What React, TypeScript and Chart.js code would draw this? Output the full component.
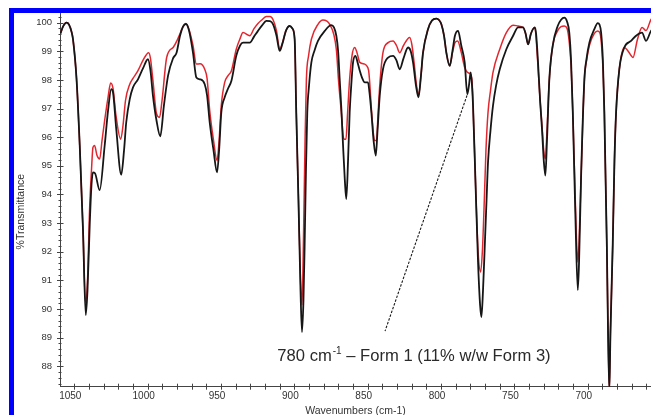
import React, { useEffect, useRef } from "react";
import { Chart, registerables } from "chart.js";

Chart.register(...registerables);

// Black trace (sample) – wavenumber (cm-1) and % transmittance
const blackWavenumbers = [
  1059.4, 1057.7, 1055.3, 1053.6, 1051.8, 1050.9, 1048.5, 1046.3, 1044.1, 1042.2,
  1041.0, 1039.5, 1038.3, 1037.3, 1035.9, 1032.7, 1029.3, 1027.0, 1024.8, 1023.6,
  1021.4, 1018.0, 1016.1, 1014.6, 1012.2, 1010.0, 1006.6, 1003.2, 999.8, 998.1,
  996.4, 994.0, 991.4, 988.9, 986.1, 982.7, 980.3, 977.9, 975.9, 973.9,
  971.8, 969.1, 966.8, 964.5, 961.1, 959.5, 957.7, 955.1, 952.7, 951.3,
  949.8, 947.5, 945.2, 942.9, 939.6, 937.0, 935.0, 930.4, 927.5, 924.8,
  922.0, 919.1, 916.6, 914.5, 912.2, 910.0, 908.1, 905.7, 903.2, 901.3,
  899.8, 898.7, 897.2, 895.8, 894.8, 893.8, 893.0, 892.1, 891.2, 890.0,
  888.4, 886.3, 883.9, 879.3, 874.8, 873.0, 871.4, 870.2, 869.1, 867.9,
  866.8, 865.6, 864.6, 863.4, 862.3, 861.0, 860.0, 858.4, 856.9, 855.4,
  853.9, 852.0, 849.8, 848.8, 847.5, 846.0, 844.5, 843.3, 841.8, 839.6,
  836.1, 832.7, 830.4, 828.2, 825.6, 822.5, 820.8, 819.1, 817.1, 815.4,
  813.7, 812.3, 808.9, 806.2, 803.2, 801.4, 799.8, 798.0, 796.4, 794.1,
  792.2, 790.5, 788.4, 786.2, 783.9, 782.1, 781.0, 779.8, 778.9, 778.2,
  776.6, 774.8, 773.4, 772.5, 771.4, 770.2, 769.0, 768.0, 766.3, 764.6,
  762.5, 760.0, 755.5, 750.9, 747.5, 744.1, 742.4, 740.7, 738.7, 736.1,
  735.2, 734.0, 732.5, 731.2, 730.0, 728.9, 727.8, 726.2, 723.9, 720.5,
  718.2, 716.0, 714.1, 712.6, 711.4, 710.2, 708.5, 706.8, 705.9, 704.6,
  702.3, 700.8, 698.9, 695.5, 693.2, 692.0, 690.9, 689.7, 688.7, 687.0,
  686.2, 685.3, 684.5, 683.0, 681.8, 680.7, 678.5, 675.1, 670.5, 667.1,
  663.0, 660.3, 656.9, 655.0,
];
const blackTransmittance = [
  99.62, 99.86, 100.0, 99.93, 99.66, 99.42, 98.05, 95.71, 92.8, 89.79,
  90.66, 92.93, 94.32, 94.77, 94.74, 94.15, 95.71, 96.93, 97.68, 97.56,
  96.28, 94.69, 95.54, 96.52, 97.33, 97.74, 98.02, 98.4, 98.72, 98.33,
  97.45, 96.59, 96.03, 97.11, 98.15, 98.75, 98.95, 99.55, 99.86, 99.95,
  99.72, 98.95, 98.08, 98.02, 97.85, 97.46, 96.52, 95.54, 94.77, 95.54,
  96.86, 97.39, 97.7, 97.97, 98.84, 99.2, 99.3, 99.3, 99.51, 99.71,
  99.9, 100.06, 100.05, 99.94, 99.55, 99.01, 99.27, 99.72, 99.88, 99.79,
  99.42, 96.86, 93.8, 90.66, 89.2, 90.3, 92.22, 94.84, 96.86, 97.8,
  98.61, 99.02, 99.36, 99.71, 99.91, 99.83, 99.54, 99.02, 98.02, 96.93,
  95.7, 94.5, 93.84, 95.19, 96.86, 97.98, 98.61, 98.84, 98.61, 98.32,
  98.08, 97.91, 97.91, 97.56, 96.86, 95.89, 95.36, 96.24, 97.45, 98.37,
  98.78, 98.84, 98.68, 98.37, 98.75, 99.13, 99.02, 98.61, 97.8, 97.39,
  98.15, 98.95, 99.77, 100.07, 100.14, 100.09, 99.94, 99.55, 98.95, 98.49,
  99.02, 99.55, 99.71, 99.19, 98.61, 97.5, 97.8, 98.26, 97.8, 97.1,
  94.54, 91.64, 90.14, 89.72, 90.66, 92.22, 93.8, 95.12, 96.24, 97.1,
  97.8, 98.37, 99.07, 99.54, 99.83, 99.83, 99.62, 99.24, 99.62, 99.83,
  99.6, 98.7, 97.28, 96.28, 95.19, 94.66, 95.89, 98.02, 99.19, 99.88,
  100.1, 100.17, 100.03, 99.65, 98.68, 96.86, 93.38, 90.66, 91.71, 94.54,
  98.02, 98.75, 99.3, 99.77, 99.98, 99.93, 99.65, 98.68, 96.86, 92.22,
  89.27, 87.28, 89.27, 92.22, 95.19, 96.86, 98.37, 99.13, 99.36, 99.54,
  99.65, 99.36, 99.71, 99.8,
];

// Red trace
const redWavenumbers = [
  1059.4, 1057.7, 1055.3, 1053.6, 1051.8, 1050.9, 1048.5, 1046.3, 1044.1, 1042.4,
  1041.0, 1039.6, 1038.3, 1037.3, 1036.2, 1034.5, 1032.7, 1031.1, 1029.3, 1027.0,
  1025.2, 1023.6, 1021.6, 1018.4, 1016.8, 1015.1, 1012.2, 1010.0, 1006.6, 1003.2,
  999.3, 998.1, 996.4, 994.0, 991.9, 990.2, 987.0, 982.5, 980.0, 977.9,
  975.9, 973.9, 971.8, 969.1, 966.8, 964.3, 961.1, 959.5, 957.7, 955.1,
  952.7, 951.3, 949.8, 947.5, 945.2, 942.9, 939.6, 937.0, 935.0, 930.4,
  927.5, 924.8, 922.0, 919.1, 916.6, 914.5, 912.2, 910.0, 908.1, 905.7,
  903.2, 901.3, 899.8, 898.7, 897.2, 895.8, 894.8, 893.8, 892.7, 891.8,
  890.3, 888.4, 883.9, 880.5, 875.9, 871.4, 869.9, 868.0, 866.8, 866.1,
  864.8, 863.8, 862.4, 860.7, 858.9, 857.3, 855.4, 852.0, 850.8, 849.4,
  848.8, 847.4, 846.0, 845.4, 844.0, 843.0, 841.8, 839.6, 836.1, 832.7,
  830.4, 828.2, 825.6, 821.4, 819.8, 818.4, 816.7, 815.4, 813.7, 812.3,
  808.9, 806.2, 803.2, 801.4, 799.8, 798.0, 796.4, 794.1, 792.2, 790.5,
  788.7, 786.2, 783.9, 782.0, 780.3, 778.9, 778.2, 776.6, 774.8, 773.0,
  771.8, 770.8, 769.4, 768.0, 766.3, 764.6, 760.0, 755.5, 750.9, 747.5,
  744.1, 742.4, 740.7, 738.7, 736.1, 734.2, 732.5, 731.2, 730.0, 728.9,
  727.8, 726.2, 723.9, 720.5, 718.2, 716.0, 714.1, 712.6, 711.4, 710.2,
  708.5, 706.8, 705.9, 704.6, 702.3, 700.8, 698.9, 695.5, 693.2, 691.6,
  690.6, 689.6, 688.7, 687.0, 686.2, 685.3, 684.5, 683.0, 681.8, 680.7,
  678.5, 675.1, 672.7, 670.5, 669.2, 666.1, 663.0, 660.3, 656.9, 655.0,
];
const redTransmittance = [
  99.62, 99.86, 100.0, 99.93, 99.66, 99.42, 98.05, 95.71, 92.8, 90.24,
  91.0, 93.45, 94.84, 95.64, 95.71, 95.36, 95.24, 95.89, 96.59, 97.39,
  97.89, 97.7, 96.76, 95.93, 96.41, 97.28, 97.85, 98.05, 98.32, 98.68,
  98.95, 98.75, 97.98, 96.83, 96.69, 97.28, 98.79, 99.14, 99.37, 99.62,
  99.86, 99.97, 99.76, 99.2, 98.55, 98.56, 98.37, 98.05, 96.93, 95.89,
  95.18, 95.89, 97.11, 97.91, 98.15, 98.32, 99.07, 99.44, 99.65, 99.54,
  99.79, 99.97, 100.1, 100.21, 100.21, 100.1, 99.72, 99.07, 99.3, 99.72,
  99.88, 99.79, 99.42, 96.86, 93.8, 91.01, 90.14, 92.4, 95.9, 98.02,
  98.85, 99.42, 99.94, 100.09, 99.94, 99.07, 97.98, 96.86, 96.06, 95.93,
  95.93, 96.76, 97.98, 98.85, 99.13, 98.95, 98.61, 98.55, 98.5, 98.33,
  98.02, 96.93, 96.06, 95.88, 95.88, 96.76, 97.8, 98.95, 99.3, 99.36,
  99.2, 98.95, 99.2, 99.48, 99.2, 98.61, 97.8, 97.46, 98.15, 98.95,
  99.77, 100.07, 100.14, 100.09, 99.94, 99.55, 98.95, 98.49, 98.95, 99.3,
  99.36, 98.95, 98.43, 98.26, 98.22, 97.98, 97.1, 94.54, 92.06, 91.29,
  92.06, 93.38, 95.54, 96.86, 97.63, 98.26, 99.07, 99.65, 99.91, 99.88,
  99.83, 99.62, 99.24, 99.62, 99.83, 98.68, 97.28, 96.41, 95.54, 95.24,
  96.24, 98.02, 99.19, 99.72, 99.86, 99.88, 99.79, 99.3, 98.5, 96.86,
  93.8, 91.64, 92.4, 94.54, 98.02, 98.68, 99.2, 99.62, 99.71, 99.62,
  99.2, 98.33, 96.86, 92.22, 89.27, 87.28, 89.27, 92.22, 95.19, 96.86,
  98.37, 99.13, 99.02, 98.85, 98.78, 99.42, 99.83, 99.72, 100.11, 100.2,
];

const xAxisRange = [656.9, 1059.75];
const yAxisRange = [87.29, 100.31];
const xTickLabels = [1050, 1000, 950, 900, 850, 800, 750, 700];
const yTickLabels = [88, 89, 90, 91, 92, 93, 94, 95, 96, 97, 98, 99, 100];
const xAxisTitle = "Wavenumbers (cm-1)";
const yAxisTitle = "%Transmittance";

// annotation (data coordinates)
const annotationTip = [782.3, 97.46];
const annotationTail = [838.2, 89.23];
const annotationTextAnchor = [911.6, 88.17];
const annotationParts = ["780 cm", "-1", " \u2013 Form 1 (11% w/w Form 3)"];
const yTitleCenterValue = 93.4;

const FONT = '"Liberation Sans", Arial, Helvetica, sans-serif';

const decorations = {
  id: "decorations",
  afterDraw(chart: any) {
    const { ctx, chartArea: area } = chart;
    const xs = chart.scales.x;
    const ys = chart.scales.y;
    ctx.save();
    ctx.strokeStyle = "#444";
    ctx.lineWidth = 1;
    ctx.beginPath();
    // y major ticks
    yTickLabels.forEach((v) => {
      const py = Math.round(ys.getPixelForValue(v)) + 0.5;
      ctx.moveTo(area.left - 3, py);
      ctx.lineTo(area.left + 3.5, py);
    });
    // y minor ticks every 0.2
    for (let k = Math.ceil(yAxisRange[0] * 5); k <= Math.floor(yAxisRange[1] * 5); k++) {
      if (k % 5 === 0) continue;
      const py = Math.round(ys.getPixelForValue(k / 5)) + 0.5;
      ctx.moveTo(area.left - 1.5, py);
      ctx.lineTo(area.left + 1.5, py);
    }
    // x ticks every 10
    for (let k = Math.ceil(xAxisRange[0] / 10); k <= Math.floor(xAxisRange[1] / 10); k++) {
      const px = Math.round(xs.getPixelForValue(k * 10)) + 0.5;
      ctx.moveTo(px, area.bottom - 3);
      ctx.lineTo(px, area.bottom + 3);
    }
    ctx.stroke();

    // dashed annotation line
    ctx.beginPath();
    ctx.setLineDash([2.5, 1.5]);
    ctx.strokeStyle = "#1a1a1a";
    ctx.lineWidth = 1.1;
    ctx.moveTo(xs.getPixelForValue(annotationTip[0]), ys.getPixelForValue(annotationTip[1]));
    ctx.lineTo(xs.getPixelForValue(annotationTail[0]), ys.getPixelForValue(annotationTail[1]));
    ctx.stroke();
    ctx.setLineDash([]);

    // annotation text
    const tx = xs.getPixelForValue(annotationTextAnchor[0]);
    const ty = ys.getPixelForValue(annotationTextAnchor[1]);
    ctx.fillStyle = "#2a2a2a";
    ctx.textBaseline = "alphabetic";
    ctx.textAlign = "left";
    ctx.font = `16.6px ${FONT}`;
    ctx.fillText(annotationParts[0], tx, ty);
    let cx = tx + ctx.measureText(annotationParts[0]).width + 1;
    ctx.font = `10px ${FONT}`;
    ctx.fillText(annotationParts[1], cx, ty - 7);
    cx += ctx.measureText(annotationParts[1]).width;
    ctx.font = `16.6px ${FONT}`;
    ctx.fillText(annotationParts[2], cx, ty);

    // y axis title
    ctx.translate(21, ys.getPixelForValue(yTitleCenterValue));
    ctx.rotate(-Math.PI / 2);
    ctx.textAlign = "center";
    ctx.textBaseline = "middle";
    ctx.fillStyle = "#333";
    ctx.font = `10.5px ${FONT}`;
    ctx.fillText(yAxisTitle, 0, 0);
    ctx.restore();
  },
};

export default function App() {
  const ref = useRef<HTMLCanvasElement | null>(null);

  useEffect(() => {
    if (!ref.current) return;
    const black = blackWavenumbers.map((w, i) => ({ x: w, y: blackTransmittance[i] }));
    const red = redWavenumbers.map((w, i) => ({ x: w, y: redTransmittance[i] }));
    const chart = new Chart(ref.current, {
      type: "line",
      data: {
        datasets: [
          {
            label: "black",
            data: black,
            borderColor: "#161616",
            borderWidth: 1.8,
            pointRadius: 0,
            cubicInterpolationMode: "monotone",
            fill: false,
          },
          {
            label: "red",
            data: red,
            borderColor: "#e3262e",
            borderWidth: 1.5,
            pointRadius: 0,
            cubicInterpolationMode: "monotone",
            fill: false,
          },
        ],
      },
      options: {
        responsive: false,
        animation: false,
        devicePixelRatio: 1,
        layout: { padding: { top: 13, left: 0, right: 0, bottom: 0 } },
        plugins: { legend: { display: false }, tooltip: { enabled: false } },
        scales: {
          x: {
            type: "linear",
            reverse: true,
            min: xAxisRange[0],
            max: xAxisRange[1],
            afterFit: (s: any) => {
              s.height = 38.3;
            },
            grid: { display: false, drawTicks: false },
            border: { display: true, color: "#444", width: 1 },
            ticks: {
              stepSize: 10,
              autoSkip: false,
              includeBounds: false,
              maxRotation: 0,
              minRotation: 0,
              padding: 4,
              labelOffset: -4,
              color: "#333",
              font: { size: 10, family: FONT },
              callback: (v: any) => (xTickLabels.includes(Math.round(v)) ? String(Math.round(v)) : ""),
            },
            title: {
              display: true,
              text: xAxisTitle,
              color: "#333",
              font: { size: 10.5, family: FONT },
              padding: { top: 0, bottom: 7.3 },
            },
          },
          y: {
            type: "linear",
            min: yAxisRange[0],
            max: yAxisRange[1],
            afterFit: (s: any) => {
              s.width = 60;
            },
            grid: { display: false, drawTicks: false },
            border: { display: true, color: "#444", width: 1 },
            ticks: {
              stepSize: 1,
              includeBounds: false,
              autoSkip: false,
              padding: 8,
              color: "#333",
              font: { size: 9.5, family: FONT },
              callback: (v: any) => (yTickLabels.includes(Math.round(v)) ? String(Math.round(v)) : ""),
            },
          },
        },
      },
      plugins: [decorations],
    } as any);
    return () => chart.destroy();
  }, []);

  return (
    <div
      style={{
        position: "fixed",
        left: 0,
        top: 0,
        width: 651,
        height: 415,
        overflow: "hidden",
        background: "#fff",
      }}
    >
      <canvas ref={ref} width={651} height={425} style={{ display: "block", width: 651, height: 425 }} />
      <div
        style={{
          position: "absolute",
          left: 9,
          top: 8,
          width: 700,
          height: 500,
          borderLeft: "5px solid #0000ff",
          borderTop: "5px solid #0000ff",
          pointerEvents: "none",
        }}
      />
    </div>
  );
}
